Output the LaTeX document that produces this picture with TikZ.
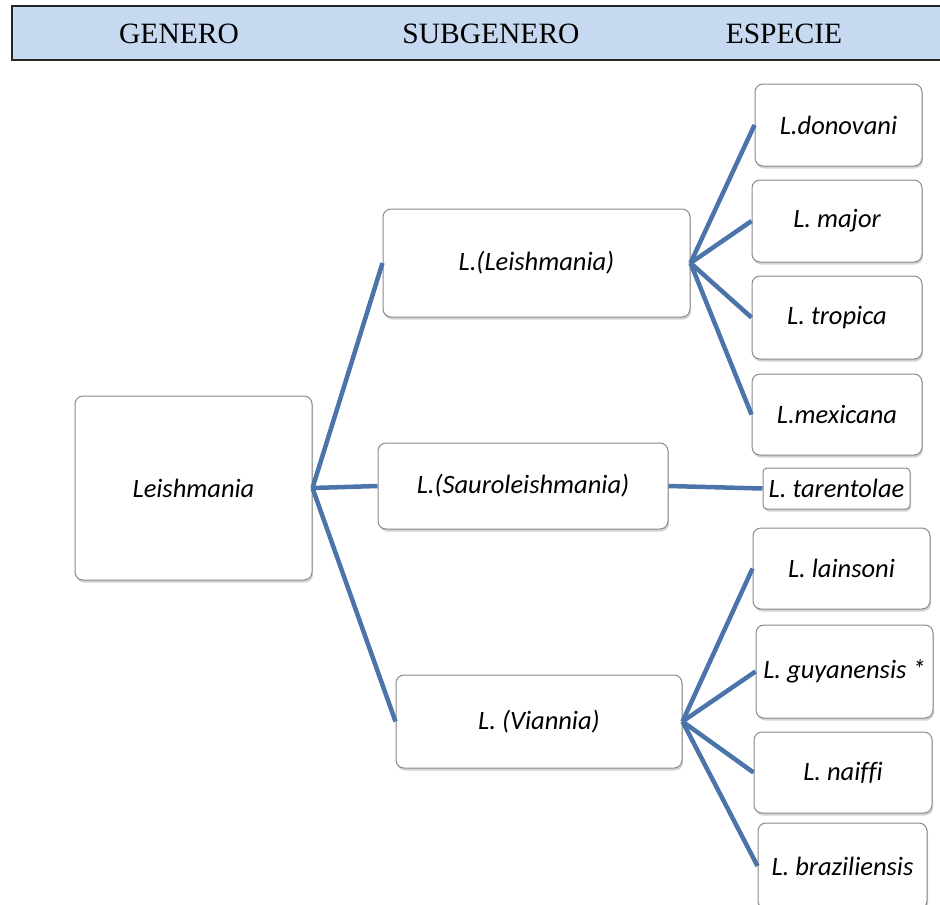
\documentclass[tikz,border=0pt]{standalone}
\usepackage{fontspec}
\setmainfont[Ligatures=NoCommon]{Carlito}
\newfontfamily\headfont{Liberation Serif}
\usepackage{tikz}
\usetikzlibrary{positioning,shadows}
\definecolor{headblue}{HTML}{C6D9F1}
\definecolor{linkblue}{HTML}{4A74AA}
\definecolor{boxgray}{HTML}{8A8A8A}
\begin{document}
\begin{tikzpicture}[x=1pt,y=-1pt, every node/.style={font=\fontsize{26.5}{30}\selectfont\itshape,align=center}, box/.style={draw=boxgray,line width=1pt,fill=white,rounded corners=8pt,inner sep=2pt,drop shadow={shadow xshift=1pt,shadow yshift=-2.5pt,opacity=0.35}}, link/.style={draw=linkblue,line width=4.5pt}, head/.style={font=\fontsize{29.5}{33}\selectfont\headfont}]
\useasboundingbox (0,0) rectangle (940,905);
% header band
\draw[line width=2.5pt,draw=black!85,fill=headblue] (12,6) rectangle (945,60);
\node[head] (genero) at (179,34) {GENERO};
\node[head] (subgenero) at (491,34) {SUBGENERO};
\node[head] (especie) at (784,34) {ESPECIE};
% genus and subgenera
\node[box,minimum width=237,minimum height=184] (leish) at (193.5,488) {Leishmania};
\node[box,minimum width=307,minimum height=108] (subL) at (536.5,263) {L.(Leishmania)};
\node[box,minimum width=290,minimum height=86] (subS) at (523,486) {L.(Sauroleishmania)};
\node[box,minimum width=286,minimum height=93] (subV) at (539,721.5) {L. (Viannia)};
% species
\node[box,minimum width=167,minimum height=82] (donovani) at (838.5,125) {L.donovani};
\node[box,minimum width=170,minimum height=82] (major) at (837,221) {L. major};
\node[box,minimum width=170,minimum height=83] (tropica) at (837,317.5) {L. tropica};
\node[box,minimum width=170,minimum height=81] (mexicana) at (837,414.5) {L.mexicana};
\node[box,minimum width=147,minimum height=41,rounded corners=4pt] (tarentolae) at (836.5,488.5) {L. tarentolae};
\node[box,minimum width=177,minimum height=81] (lainsoni) at (841.5,568.5) {L. lainsoni};
\node[box,minimum width=177,minimum height=93] (guyanensis) at (844.5,671.5) {L. guyanensis *};
\node[box,minimum width=178,minimum height=81] (naiffi) at (843,772.5) {L. naiffi};
\node[box,minimum width=169,minimum height=86] (braziliensis) at (842.5,866) {L. braziliensis};
% links
\draw[link] (leish.east)--(subL.west);\draw[link] (leish.east)--(subS.west);\draw[link] (leish.east)--(subV.west);
\draw[link] (subL.east)--(donovani.west);\draw[link] (subL.east)--(major.west);\draw[link] (subL.east)--(tropica.west);\draw[link] (subL.east)--(mexicana.west);
\draw[link] (subS.east)--(tarentolae.west);
\draw[link] (subV.east)--(lainsoni.west);\draw[link] (subV.east)--(guyanensis.west);\draw[link] (subV.east)--(naiffi.west);\draw[link] (subV.east)--(braziliensis.west);
\end{tikzpicture}
\end{document}
